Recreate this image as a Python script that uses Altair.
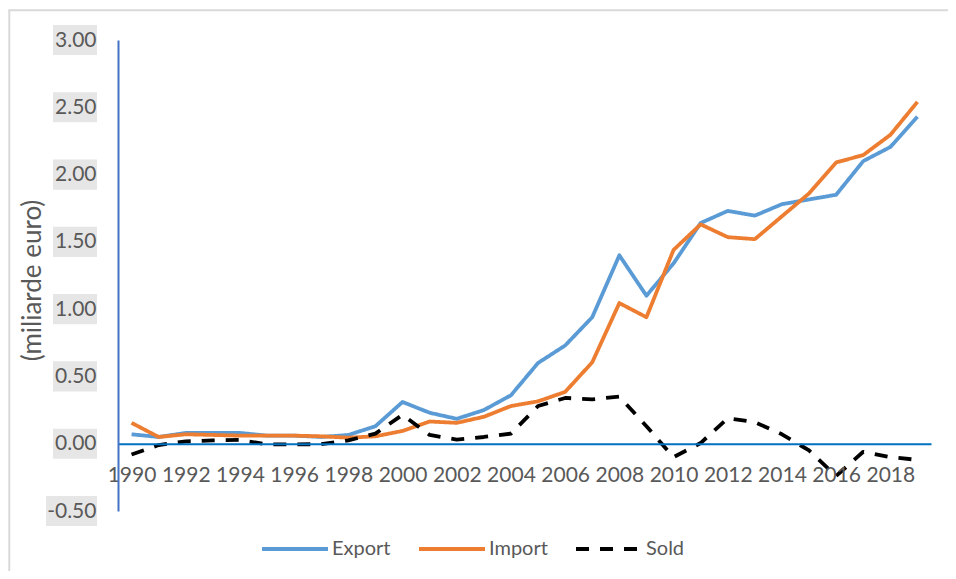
import altair as alt
import pandas as pd

years = list(range(1990, 2020))
export_vals = [0.07, 0.05, 0.08, 0.08, 0.08, 0.06, 0.06, 0.05, 0.065, 0.13,
               0.31, 0.23, 0.185, 0.25, 0.36, 0.60, 0.73, 0.94, 1.40, 1.10,
               1.34, 1.64, 1.73, 1.695, 1.78, 1.815, 1.85, 2.10, 2.205, 2.43]
import_vals = [0.155, 0.05, 0.07, 0.065, 0.06, 0.06, 0.06, 0.055, 0.045, 0.055,
               0.095, 0.165, 0.155, 0.20, 0.28, 0.315, 0.385, 0.605, 1.045, 0.94,
               1.44, 1.63, 1.535, 1.52, 1.69, 1.86, 2.09, 2.145, 2.295, 2.54]
sold_vals = [-0.08, -0.01, 0.017, 0.025, 0.028, -0.005, -0.005, -0.003, 0.025, 0.075,
             0.215, 0.065, 0.03, 0.05, 0.075, 0.28, 0.34, 0.33, 0.35, 0.13,
             -0.10, 0.005, 0.19, 0.16, 0.07, -0.05, -0.24, -0.06, -0.10, -0.12]

series = ["Export", "Import", "Sold"]
colors = ["#5B9BD5", "#ED7D31", "#000000"]
dashes = [[1, 0], [1, 0], [13, 11]]
y_ticks = [-0.5, 0.0, 0.5, 1.0, 1.5, 2.0, 2.5, 3.0]
x_ticks = list(range(1990, 2019, 2))

rows = []
for name, vals in zip(series, [export_vals, import_vals, sold_vals]):
    for yr, v in zip(years, vals):
        rows.append({"year": yr, "value": v, "series": name})
df = pd.DataFrame(rows)
ticks_df = pd.DataFrame({"tick": y_ticks})

FONT = "Lato"
GREY = "#595959"
W, H = 813, 471

x_scale = alt.Scale(domain=[1989.5, 2019.5], nice=False, zero=False)
y_scale = alt.Scale(domain=[-0.5, 3.0], nice=False, zero=False)

y_axis = alt.Axis(
    values=y_ticks,
    labelExpr="datum.value < 0 ? '-' + format(-datum.value, '.2f') : format(datum.value, '.2f')",
    title="(miliarde euro)", titleFont=FONT, titleFontSize=26, titleFontWeight="normal",
    titleColor=GREY, titleX=-86, titleY=240, titleAngle=-90, titleAlign="center",
    titleBaseline="middle",
    domainColor="#4472C4", domainWidth=2, ticks=False, labelPadding=22,
    labelFont=FONT, labelFontSize=21, labelColor=GREY, grid=False, zindex=1,
    labelFlush=False, labelOverlap=False,
)
x_axis = alt.Axis(
    values=x_ticks, format="d", title=None, domainColor="#0070C0", domainWidth=2,
    ticks=False, labelPadding=21, labelFont=FONT, labelFontSize=21, labelColor=GREY,
    grid=False, offset=-67.3, labelFlush=False, labelOverlap=False, zindex=1,
)
legend = alt.Legend(
    orient="none", legendX=142, legendY=474, direction="horizontal", columns=3,
    title=None, symbolType="stroke", symbolSize=4356, symbolStrokeWidth=4,
    labelFont=FONT, labelFontSize=20, labelColor=GREY, columnPadding=20,
    labelOffset=2, padding=0,
)

box_pos = alt.Chart(ticks_df).transform_filter("datum.tick >= 0").transform_calculate(
    lo="datum.tick - 0.112", hi="datum.tick + 0.112"
).mark_rect(color="#E7E6E6").encode(
    x=alt.value(-65), x2=alt.value(-21),
    y=alt.Y("lo:Q", scale=y_scale, axis=y_axis), y2="hi:Q",
)
box_neg = alt.Chart(ticks_df).transform_filter("datum.tick < 0").transform_calculate(
    lo="datum.tick - 0.112", hi="datum.tick + 0.112"
).mark_rect(color="#E7E6E6").encode(
    x=alt.value(-72), x2=alt.value(-21),
    y=alt.Y("lo:Q", scale=y_scale, axis=y_axis), y2="hi:Q",
)

dummy = pd.DataFrame({"a": [0]})
border_left = alt.Chart(dummy).mark_rule(color="#D9D9D9", strokeWidth=2).encode(
    x=alt.value(-108.7), y=alt.value(-29.7), y2=alt.value(540)
)
border_top = alt.Chart(dummy).mark_rule(color="#D9D9D9", strokeWidth=2).encode(
    x=alt.value(-109.7), x2=alt.value(840), y=alt.value(-29.7)
)

lines = alt.Chart(df).mark_line(strokeWidth=3.8, strokeJoin="round", strokeCap="butt").encode(
    x=alt.X("year:Q", scale=x_scale, axis=x_axis),
    y=alt.Y("value:Q", scale=y_scale, axis=y_axis),
    color=alt.Color("series:N", scale=alt.Scale(domain=series, range=colors), legend=legend),
    strokeDash=alt.StrokeDash("series:N", scale=alt.Scale(domain=series, range=dashes), legend=legend),
)

chart = alt.layer(border_left, border_top, box_pos, box_neg, lines).properties(
    width=W, height=H,
    autosize=alt.AutoSizeParams(type="none"),
    padding={"left": 110, "top": 32, "right": 17, "bottom": 60},
    background="white",
).configure_view(stroke=None)

chart.save("out.html", embed_options={"renderer": "svg", "actions": False})
